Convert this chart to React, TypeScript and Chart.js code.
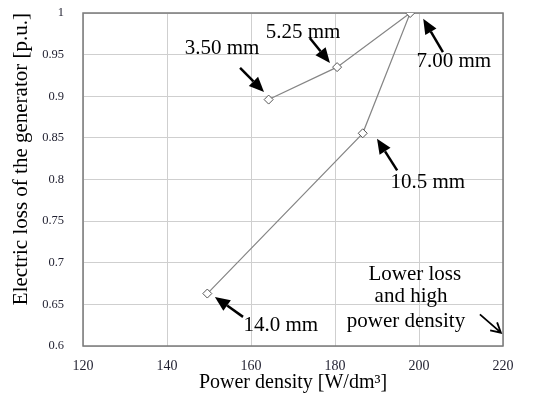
import React, { useEffect, useRef } from "react";
import { Chart, registerables } from "chart.js";

Chart.register(...registerables);

// Data (order of the connected curve)
const slotLabels = ["3.50 mm", "5.25 mm", "7.00 mm", "10.5 mm", "14.0 mm"];
const powerDensity = [164.2, 180.5, 197.9, 186.6, 149.6];
const electricLoss = [0.896, 0.935, 1.0, 0.8555, 0.663];

const xTicks = [120, 140, 160, 180, 200, 220];
const yTickLabels = ["0.6", "0.65", "0.7", "0.75", "0.8", "0.85", "0.9", "0.95", "1"];

// Annotation texts (anchored in data units)
const noteTexts = ["3.50 mm", "5.25 mm", "7.00 mm", "10.5 mm", "14.0 mm", "Lower loss", "and high", "power density"];
const noteX = [153.1, 172.4, 208.3, 202.1, 167.1, 199.0, 198.1, 196.9];
const noteY = [0.957, 0.977, 0.942, 0.797, 0.625, 0.686, 0.66, 0.629];

// Arrows: tail -> tip, in data units
const arrowTailX = [157.4, 174.0, 205.7, 194.8, 158.1];
const arrowTailY = [0.934, 0.97, 0.953, 0.811, 0.635];
const arrowTipX = [163.1, 178.8, 201.0, 190.0, 151.4];
const arrowTipY = [0.905, 0.94, 0.993, 0.849, 0.659];

const trendTail = [214.5, 0.638];
const trendTip = [219.5, 0.616];

const SERIF = "'Liberation Serif', 'Times New Roman', serif";

const annotPlugin = {
  id: "annot",
  beforeDatasetsDraw(chart: any) {
    const { ctx, chartArea } = chart;
    ctx.save();
    ctx.strokeStyle = "#7a7a7a";
    ctx.lineWidth = 1.5;
    ctx.strokeRect(chartArea.left, chartArea.top, chartArea.right - chartArea.left, chartArea.bottom - chartArea.top);
    ctx.restore();
  },
  afterDatasetsDraw(chart: any) {
    const { ctx } = chart;
    const xs = chart.scales.x;
    const ys = chart.scales.y;
    ctx.save();
    // filled arrows
    for (let i = 0; i < arrowTailX.length; i++) {
      const x1 = xs.getPixelForValue(arrowTailX[i]);
      const y1 = ys.getPixelForValue(arrowTailY[i]);
      const x2 = xs.getPixelForValue(arrowTipX[i]);
      const y2 = ys.getPixelForValue(arrowTipY[i]);
      const ang = Math.atan2(y2 - y1, x2 - x1);
      const headLen = 15;
      const headW = 6.5;
      const bx = x2 - headLen * Math.cos(ang);
      const by = y2 - headLen * Math.sin(ang);
      ctx.strokeStyle = "#000";
      ctx.lineWidth = 2.5;
      ctx.beginPath();
      ctx.moveTo(x1, y1);
      ctx.lineTo(bx, by);
      ctx.stroke();
      ctx.fillStyle = "#000";
      ctx.beginPath();
      ctx.moveTo(x2, y2);
      ctx.lineTo(bx + headW * Math.sin(ang), by - headW * Math.cos(ang));
      ctx.lineTo(bx - headW * Math.sin(ang), by + headW * Math.cos(ang));
      ctx.closePath();
      ctx.fill();
    }
    // thin open arrow
    {
      const x1 = xs.getPixelForValue(trendTail[0]);
      const y1 = ys.getPixelForValue(trendTail[1]);
      const x2 = xs.getPixelForValue(trendTip[0]);
      const y2 = ys.getPixelForValue(trendTip[1]);
      const ang = Math.atan2(y2 - y1, x2 - x1);
      ctx.strokeStyle = "#000";
      ctx.lineWidth = 1.8;
      ctx.beginPath();
      ctx.moveTo(x1, y1);
      ctx.lineTo(x2, y2);
      const hl = 11;
      const a = 0.5;
      ctx.moveTo(x2 - hl * Math.cos(ang - a), y2 - hl * Math.sin(ang - a));
      ctx.lineTo(x2, y2);
      ctx.lineTo(x2 - hl * Math.cos(ang + a), y2 - hl * Math.sin(ang + a));
      ctx.stroke();
    }
    // texts
    ctx.fillStyle = "#000";
    ctx.font = `21px ${SERIF}`;
    ctx.textAlign = "center";
    ctx.textBaseline = "middle";
    for (let i = 0; i < noteTexts.length; i++) {
      ctx.fillText(noteTexts[i], xs.getPixelForValue(noteX[i]), ys.getPixelForValue(noteY[i]));
    }
    ctx.restore();
  },
};

export default function App() {
  const ref = useRef<HTMLCanvasElement>(null);
  useEffect(() => {
    if (!ref.current) return;
    const chart = new Chart(ref.current, {
      type: "line",
      data: {
        datasets: [
          {
            label: "Electric loss",
            data: powerDensity.map((x, i) => ({ x, y: electricLoss[i] })),
            borderColor: "#858585",
            borderWidth: 1.2,
            pointStyle: "rectRot",
            pointRadius: 4.5,
            pointBackgroundColor: "#fff",
            pointBorderColor: "#555",
            pointBorderWidth: 1,
            tension: 0,
            fill: false,
          },
        ],
      },
      options: {
        animation: false,
        responsive: false,
        maintainAspectRatio: false,
        layout: { padding: { top: 13, right: 31, left: 0, bottom: 0 } },
        plugins: { legend: { display: false }, tooltip: { enabled: false } },
        scales: {
          x: {
            type: "linear",
            min: 120,
            max: 220,
            afterBuildTicks: (s: any) => {
              s.ticks = xTicks.map((v) => ({ value: v }));
            },
            afterFit: (s: any) => {
              s.height = 50;
              s.paddingLeft = 0;
              s.paddingRight = 0;
            },
            grid: { color: "#cfcfcf", lineWidth: 1, drawTicks: false },
            border: { display: false },
            ticks: {
              padding: 12,
              color: "#1f1f2f",
              font: { family: SERIF, size: 14 },
            },
            title: {
              display: true,
              text: "Power density [W/dm³]",
              color: "#000",
              font: { family: SERIF, size: 20 },
              padding: { top: 0, bottom: 1 },
            },
          },
          y: {
            type: "linear",
            min: 0.6,
            max: 1,
            afterBuildTicks: (s: any) => {
              s.ticks = yTickLabels.map((t) => ({ value: parseFloat(t) }));
            },
            afterFit: (s: any) => {
              s.width = 83;
              s.paddingTop = 0;
              s.paddingBottom = 0;
            },
            grid: { color: "#cfcfcf", lineWidth: 1, drawTicks: false },
            border: { display: false },
            ticks: {
              padding: 19,
              color: "#1f1f2f",
              font: { family: SERIF, size: 12.5 },
              callback: (v: any) => {
                const idx = yTickLabels.findIndex((t) => Math.abs(parseFloat(t) - v) < 1e-6);
                return idx >= 0 ? yTickLabels[idx] : "";
              },
            },
            title: {
              display: true,
              text: "Electric loss of the generator [p.u.]",
              align: "end",
              color: "#000",
              font: { family: SERIF, size: 21 },
              padding: { top: 9, bottom: 0 },
            },
          },
        },
      },
      plugins: [annotPlugin],
    });
    return () => chart.destroy();
  }, []);
  return (
    <div style={{ position: "fixed", left: 0, top: 0, width: 534, height: 396, background: "#fff" }}>
      <canvas ref={ref} width={534} height={396} style={{ width: 534, height: 396 }} />
    </div>
  );
}
